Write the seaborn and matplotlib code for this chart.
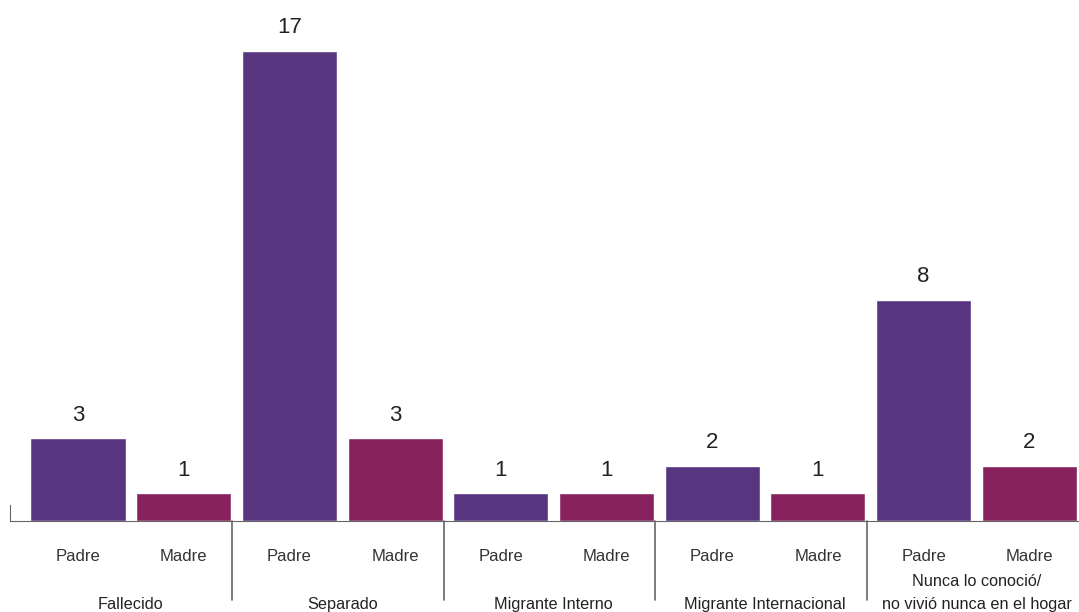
import pandas as pd
import matplotlib.pyplot as plt
import matplotlib.transforms as mtransforms
import seaborn as sns

# datos
grupos = ['Fallecido', 'Separado', 'Migrante Interno', 'Migrante Internacional',
          'Nunca lo conoció/\nno vivió nunca en el hogar']
padres = ['Padre', 'Madre']
valores_padre = [3, 17, 1, 2, 8]
valores_madre = [1, 3, 1, 1, 2]

filas = []
for g, vp, vm in zip(grupos, valores_padre, valores_madre):
    filas.append({'clave': g + '|Padre', 'grupo': g, 'padre': 'Padre', 'valor': vp})
    filas.append({'clave': g + '|Madre', 'grupo': g, 'padre': 'Madre', 'valor': vm})
df = pd.DataFrame(filas)

sns.set_style('white')
plt.rcParams['font.family'] = ['Liberation Sans', 'DejaVu Sans']

fig = plt.figure(figsize=(10.79, 6.12), dpi=100)
ax = fig.add_axes([10 / 1079, 91 / 612, 1 - 10 / 1079, 521 / 612])

colores = {'Padre': '#58367f', 'Madre': '#88225e'}
sns.barplot(data=df, x='clave', y='valor', hue='padre', palette=colores,
            dodge=False, width=0.9, saturation=1, legend=False, ax=ax)

ax.set_xlim(-0.643, 9.47)
ax.set_ylim(0, 18.84)

# etiquetas de valor
for i, v in enumerate(df['valor']):
    ax.annotate(str(v), (i, v), xytext=(0, 9), textcoords='offset points',
                ha='center', va='bottom', fontsize=16, color='#222222')

# ejes
for s in ['top', 'right']:
    ax.spines[s].set_visible(False)
ax.spines['bottom'].set_color('#666666')
ax.spines['left'].set_color('#666666')
ax.spines['left'].set_bounds(0, 0.58)
ax.set_yticks([])
ax.set_xticks(range(10))
ax.set_xticklabels(df['padre'], fontsize=12, color='#333333')
ax.tick_params(axis='x', length=0, pad=20)
ax.set_xlabel('')
ax.set_ylabel('')

trans = mtransforms.blended_transform_factory(ax.transData, ax.transAxes)
for k in range(1, 5):
    ax.plot([2 * k - 0.54, 2 * k - 0.54], [0, -0.152], transform=trans,
            color='#666666', lw=1.2, clip_on=False)

for k, g in enumerate(grupos):
    ax.text(2 * k + 0.5, -0.175, g, transform=trans, ha='center', va='bottom',
            fontsize=11.7, color='#222222', linespacing=1.7)

plt.savefig('out.png', dpi=100)
plt.close()
